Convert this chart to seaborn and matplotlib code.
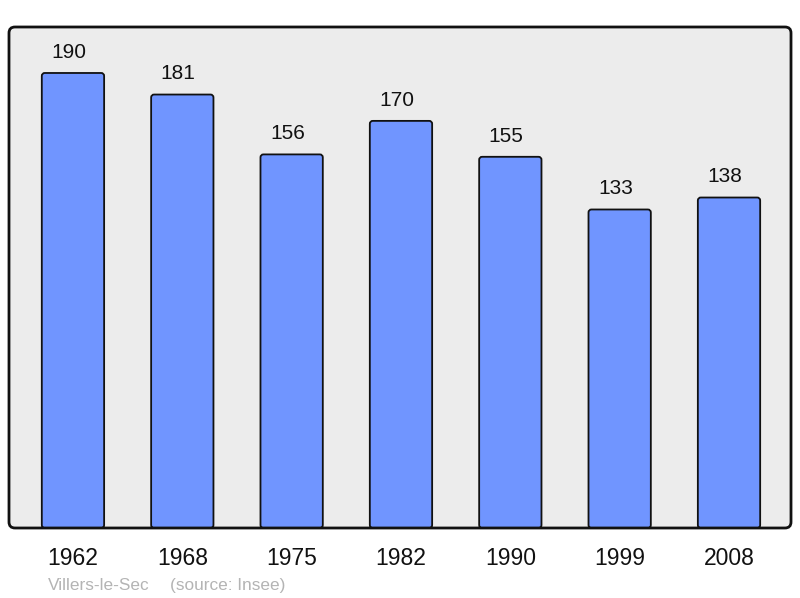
import matplotlib
matplotlib.use("Agg")
import matplotlib.pyplot as plt
from matplotlib.patches import FancyBboxPatch
import seaborn as sns
import pandas as pd

years = ["1962", "1968", "1975", "1982", "1990", "1999", "2008"]
population = [190, 181, 156, 170, 155, 133, 138]
commune = "Villers-le-Sec"
source = "(source: Insee)"

sns.set_theme(style="white")
plt.rcParams["font.family"] = ["Liberation Sans", "DejaVu Sans"]

df = pd.DataFrame({"year": years, "pop": population})

fig = plt.figure(figsize=(8, 5.98), dpi=100)
ax = fig.add_axes([9 / 800, 70 / 598, 782 / 800, 501 / 598])

sns.barplot(data=df, x="year", y="pop", color="#7095ff", saturation=1,
            width=0.57, edgecolor="#111111", linewidth=1.3, ax=ax, zorder=2)

x0, x1 = -0.585, 6.567
ax.set_xlim(x0, x1)
ax.set_ylim(0, 209.2)

# rounded bar corners
xpx = 782 / (x1 - x0)
ypx = 501 / 209.2
aspect = xpx / ypx
for p in list(ax.patches):
    x, y = p.get_x(), p.get_y()
    w, h = p.get_width(), p.get_height()
    fb = FancyBboxPatch((x, y), w, h,
                        boxstyle="round,pad=0,rounding_size=%f" % (3 / xpx),
                        mutation_aspect=aspect,
                        facecolor=p.get_facecolor(), edgecolor="#111111",
                        linewidth=1.3, zorder=2)
    p.remove()
    ax.add_patch(fb)

for i, v in enumerate(population):
    ax.annotate(str(v), (i, v), xytext=(-3, 8), textcoords="offset points",
                ha="center", va="bottom", fontsize=15, color="#111111")

ax.patch.set_visible(False)
for s in ax.spines.values():
    s.set_visible(False)

ar = 501 / 782
bg = FancyBboxPatch((0, 0), 1, 1, boxstyle="round,pad=0,rounding_size=%f" % (6 / 782),
                    mutation_aspect=1 / ar, transform=ax.transAxes,
                    facecolor="#ececec", edgecolor="none", zorder=0, clip_on=False)
ax.add_patch(bg)
fr = FancyBboxPatch((0, 0), 1, 1, boxstyle="round,pad=0,rounding_size=%f" % (6 / 782),
                    mutation_aspect=1 / ar, transform=ax.transAxes,
                    facecolor="none", edgecolor="#111111", linewidth=2,
                    zorder=5, clip_on=False)
ax.add_patch(fr)

ax.set_yticks([])
ax.set_xlabel("")
ax.set_ylabel("")
ax.tick_params(axis="x", length=0, pad=13.5, labelsize=16.5, labelcolor="#111111")

fig.text(48 / 800, 1 - 590 / 598, commune, fontsize=12.4, color="#b4b4b4",
         ha="left", va="baseline")
fig.text(170 / 800, 1 - 590 / 598, source, fontsize=12.4, color="#b4b4b4",
         ha="left", va="baseline")

fig.savefig("out.png", dpi=100)
